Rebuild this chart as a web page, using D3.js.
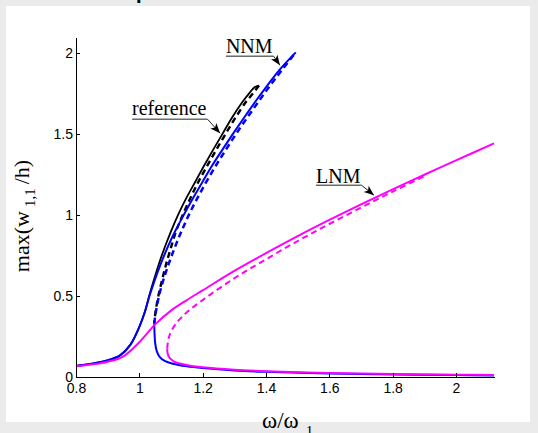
<!DOCTYPE html>
<html>
<head>
<meta charset="utf-8">
<script src="https://cdn.jsdelivr.net/npm/d3@7"></script>
<style>
  html, body { margin: 0; padding: 0; background: #ebebeb; }
  svg { display: block; }
  .tick text { font-family: "Liberation Sans", Arial, sans-serif; font-size: 14px; fill: #000; }
</style>
</head>
<body>
<div id="chart"></div>
<script>
// x ticks / y ticks
const xTicks = [0.8, 1, 1.2, 1.4, 1.6, 1.8, 2];
const xTickLabels = ["0.8", "1", "1.2", "1.4", "1.6", "1.8", "2"];
const yTicks = [0, 0.5, 1, 1.5, 2];
const yTickLabels = ["0", "0.5", "1", "1.5", "2"];

// reference (black): stable upper branch, unstable branch  [omega/omega1, max(w11/h)]
const refStable = [[0.8,0.068],[0.85,0.082],[0.9,0.103],[0.94,0.135],[0.972,0.2],[1.0,0.31],[1.017,0.4],
    [1.031,0.5],[1.046,0.6],[1.062,0.7],[1.08,0.8],[1.1,0.9],[1.122,1.0],[1.147,1.1],[1.175,1.2],
    [1.203,1.3],[1.232,1.4],[1.262,1.5],[1.292,1.6],[1.326,1.7],[1.35,1.76],[1.364,1.79],[1.378,1.8]];
const refUnstable = [[1.378,1.8],[1.37,1.78],[1.354,1.74],[1.337,1.7],[1.303,1.6],[1.272,1.5],
    [1.242,1.4],[1.213,1.3],[1.185,1.2],[1.16,1.1],[1.137,1.0],[1.116,0.9],[1.1,0.8],[1.085,0.7],
    [1.072,0.6],[1.06,0.5],[1.051,0.4],[1.047,0.33]];

// NNM (blue)
const nnmUpper = [[0.8,0.068],[0.85,0.082],[0.9,0.103],[0.94,0.135],[0.972,0.2],[1.0,0.31],[1.017,0.4],
    [1.032,0.5],[1.049,0.6],[1.068,0.7],[1.089,0.8],[1.113,0.9],[1.14,1.0],[1.168,1.1],[1.198,1.2],
    [1.228,1.3],[1.261,1.4],[1.295,1.5],[1.33,1.6],[1.366,1.7],[1.404,1.8],[1.444,1.9],[1.494,2.005]];
const nnmUnstable = [[1.047,0.33],[1.052,0.4],[1.062,0.5],[1.076,0.6],[1.093,0.7],[1.112,0.8],
    [1.133,0.9],[1.156,1.0],[1.182,1.1],[1.21,1.2],[1.24,1.3],[1.272,1.4],[1.305,1.5],[1.34,1.6],
    [1.376,1.7],[1.413,1.8],[1.452,1.9],[1.492,2.0]];
const nnmLower = [[1.047,0.33],[1.048,0.27],[1.05,0.21],[1.055,0.16],[1.064,0.125],[1.08,0.1],
    [1.106,0.082],[1.15,0.066],[1.2,0.055],[1.3,0.04],[1.4,0.032],[1.6,0.022],[1.8,0.016],
    [2.0,0.012],[2.12,0.01]];

// LNM (magenta)
const lnmUpper = [[0.8,0.067],[0.85,0.077],[0.9,0.094],[0.95,0.128],[1.0,0.215],[1.05,0.325],
    [1.1,0.41],[1.15,0.475],[1.2,0.535],[1.3,0.655],[1.4,0.765],[1.5,0.87],[1.6,0.97],[1.7,1.066],
    [1.8,1.159],[1.9,1.249],[2.0,1.338],[2.12,1.443]];
const lnmUnstable = [[1.088,0.175],[1.092,0.235],[1.1,0.28],[1.12,0.34],[1.15,0.4],[1.2,0.475],
    [1.3,0.61],[1.4,0.727],[1.5,0.84],[1.6,0.945],[1.7,1.046],[1.8,1.145],[1.9,1.24]];
const lnmLower = [[1.088,0.175],[1.09,0.14],[1.097,0.115],[1.11,0.095],[1.128,0.083],[1.16,0.07],
    [1.2,0.06],[1.3,0.045],[1.4,0.036],[1.6,0.025],[1.8,0.018],[2.0,0.014],[2.12,0.012]];

// annotations (arrow tips in data units)
const annoLabels = ["NNM", "reference", "LNM"];
const annoX = [1.444, 1.255, 1.741];
const annoY = [1.926, 1.506, 1.123];

const W = 538, H = 433;
const svg = d3.select("#chart").append("svg").attr("width", W).attr("height", H);

svg.append("rect").attr("width", W).attr("height", H).attr("fill", "#ebebeb");
svg.append("rect").attr("x", 6).attr("y", 6).attr("width", 524).attr("height", 416).attr("fill", "#fff");

// bit of the cut-off header
svg.append("text").attr("x", 136).attr("y", 3).text(".")
    .style("font", "bold 20px 'Liberation Sans', Arial, sans-serif").attr("fill", "#000");

var x = d3.scaleLinear().domain([0.8, 2.12]).range([76, 494]);
var y = d3.scaleLinear().domain([0, 2.1]).range([377, 37]);

var line = d3.line()
    .x(d => x(d[0]))
    .y(d => y(d[1]))
    .curve(d3.curveCatmullRom.alpha(0.5));

var series = [
    {data: refStable, color: "#000", dash: null, w: 1.8},
    {data: refUnstable, color: "#000", dash: "6,4", w: 2.4},
    {data: nnmUpper, color: "#0000ff", dash: null, w: 2},
    {data: nnmLower, color: "#0000ff", dash: null, w: 2},
    {data: nnmUnstable, color: "#0000ff", dash: "6,4", w: 2.5},
    {data: lnmUpper, color: "#ff00ff", dash: null, w: 2},
    {data: lnmLower, color: "#ff00ff", dash: null, w: 2},
    {data: lnmUnstable, color: "#ff00ff", dash: "6,4", w: 2}
];

svg.append("g").selectAll("path")
    .data(series)
    .enter().append("path")
    .attr("d", d => line(d.data))
    .attr("fill", "none")
    .attr("stroke", d => d.color)
    .attr("stroke-width", d => d.w)
    .attr("stroke-dasharray", d => d.dash)
    .attr("stroke-linejoin", "round");

// axes, ticks pointing inward like matlab
var gx = svg.append("g").attr("transform", "translate(0," + y(0) + ")")
    .call(d3.axisBottom(x).tickValues(xTicks).tickFormat((d, i) => xTickLabels[i])
        .tickSizeInner(-4).tickSizeOuter(0).tickPadding(6));
var gy = svg.append("g").attr("transform", "translate(" + x(0.8) + ",0)")
    .call(d3.axisLeft(y).tickValues(yTicks).tickFormat((d, i) => yTickLabels[i])
        .tickSizeInner(-4).tickSizeOuter(0).tickPadding(3));
[gx, gy].forEach(g => {
    g.selectAll("path, line").attr("stroke", "#000").attr("stroke-width", 1).attr("shape-rendering", "crispEdges");
    g.attr("font-size", null).attr("font-family", null);
});

// axis labels
var serif = "'Liberation Serif', 'Times New Roman', serif";
var xl = svg.append("text").attr("x", 262).attr("y", 428)
    .style("font-family", serif).style("font-size", "23px").attr("fill", "#000");
xl.append("tspan").text("\u03c9/\u03c9");
xl.append("tspan").attr("dx", 7).attr("dy", 8).style("font-size", "15px").text("1");

var yl = svg.append("text")
    .attr("transform", "translate(29," + 216 + ") rotate(-90)")
    .attr("text-anchor", "middle")
    .style("font-family", serif).style("font-size", "22px").attr("fill", "#000");
yl.append("tspan").text("max(w");
yl.append("tspan").attr("dx", 4).attr("dy", 6).style("font-size", "15px").text("1,1");
yl.append("tspan").attr("dx", 4).attr("dy", -6).text("/h)");

// arrow annotations
svg.append("defs").append("marker")
    .attr("id", "head").attr("markerUnits", "userSpaceOnUse")
    .attr("markerWidth", 11).attr("markerHeight", 9)
    .attr("refX", 10).attr("refY", 4).attr("orient", "auto")
    .append("path").attr("d", "M0,0 L10,4 L0,8 L2.5,4 Z").attr("fill", "#000");

// label offsets from the arrow tip, px
var annoOffsets = [
    {dx: -54, dy: -12, uy: -9},
    {dx: -88, dy: -18, uy: -14},
    {dx: -58, dy: -12, uy: -10}
];

annoLabels.forEach((lab, i) => {
    var tx = x(annoX[i]), ty = y(annoY[i]);
    var o = annoOffsets[i];
    var t = svg.append("text")
        .attr("x", tx + o.dx).attr("y", ty + o.dy)
        .style("font-family", serif).style("font-size", "20px").attr("fill", "#000")
        .text(lab);
    var tw = t.node().getComputedTextLength();
    var x0 = tx + o.dx, x1 = x0 + tw + 1, uy = ty + o.uy;
    svg.append("path")
        .attr("d", "M" + x0 + "," + uy + "H" + x1 + "L" + tx + "," + ty)
        .attr("fill", "none").attr("stroke", "#222").attr("stroke-width", 1)
        .attr("marker-end", "url(#head)");
});
</script>
</body>
</html>
